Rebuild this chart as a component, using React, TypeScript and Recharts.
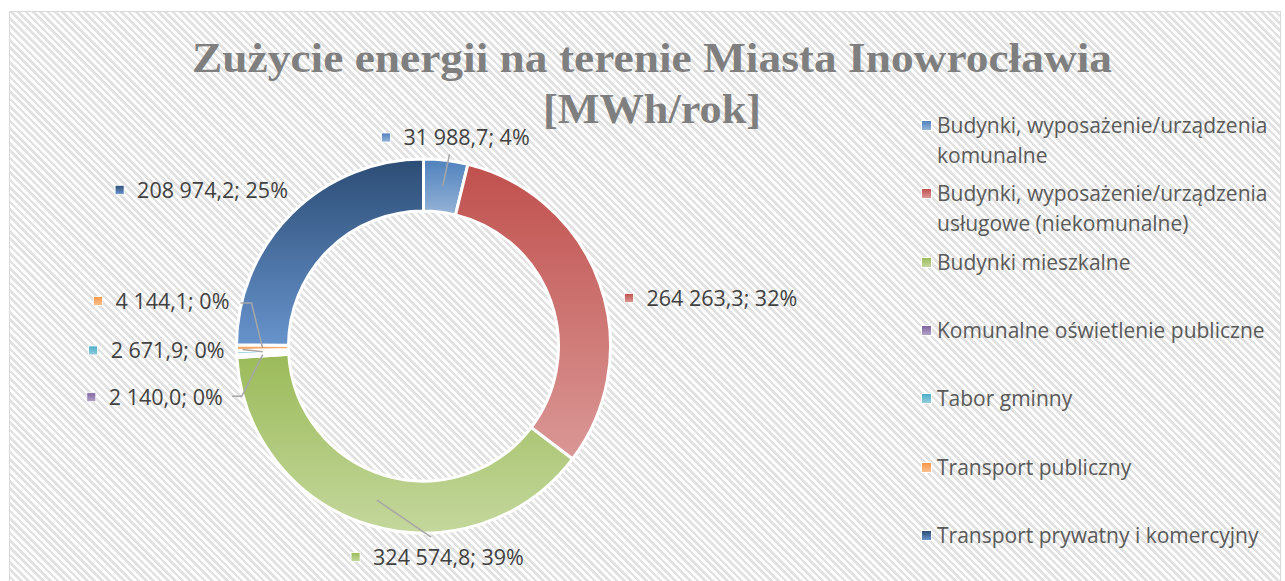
import React from 'react'
import { PieChart, Pie, Cell, Legend } from 'recharts'

// Zużycie energii [MWh/rok] wg sektora
const categories = [
    'Budynki, wyposażenie/urządzenia komunalne',
    'Budynki, wyposażenie/urządzenia usługowe (niekomunalne)',
    'Budynki mieszkalne',
    'Komunalne oświetlenie publiczne',
    'Tabor gminny',
    'Transport publiczny',
    'Transport prywatny i komercyjny'
]
const values = [31988.7, 264263.3, 324574.8, 2140.0, 2671.9, 4144.1, 208974.2]
const legendLines = [
    ['Budynki, wyposażenie/urządzenia', 'komunalne'],
    ['Budynki, wyposażenie/urządzenia', 'usługowe (niekomunalne)'],
    ['Budynki mieszkalne'],
    ['Komunalne oświetlenie publiczne'],
    ['Tabor gminny'],
    ['Transport publiczny'],
    ['Transport prywatny i komercyjny']
]
const titleLines = ['Zużycie energii na terenie Miasta Inowrocławia', '[MWh/rok]']

const topColors = ['#4F81BD', '#C0504D', '#9BBB59', '#8064A2', '#4BACC6', '#F79646', '#2C4D75']
const bottomColors = ['#95B3D7', '#DA9896', '#C4D79D', '#B3A2C7', '#93CDDD', '#FAC090', '#6793CC']

const data = categories.map((name, i) => ({ name, value: values[i] }))

// label placement tweaks (relative to point just outside the ring), Excel moved some by hand
const LABEL_LAYOUT: { dx: number; dy: number; leader: number[][] }[] = [
    { dx: -67, dy: -1, leader: [[68, 17]] },
    { dx: 4, dy: 22, leader: [] },
    { dx: -12, dy: 11, leader: [[80, -20]] },
    { dx: -128, dy: 40, leader: [[155, -1], [145, -1]] },
    { dx: -126, dy: -3, leader: [[154, -1]] },
    { dx: -121, dy: -47, leader: [[158, 2], [147, 2]] },
    { dx: -161, dy: -8, leader: [] }
]

const FONT = "'Open Sans', Lato, sans-serif"

const fmt = (v: number) => {
    const [i, d] = v.toFixed(1).split('.')
    return i.replace(/\B(?=(\d{3})+(?!\d))/g, ' ') + ',' + d
}

const RAD = Math.PI / 180

const renderLabel = (props: any) => {
    const { cx, cy, midAngle, innerRadius, outerRadius, percent, index, value } = props
    const lay = LABEL_LAYOUT[index]
    const pr = outerRadius + 22
    const px = cx + pr * Math.cos(-midAngle * RAD)
    const py = cy + pr * Math.sin(-midAngle * RAD)
    const mx = px + lay.dx
    const my = py + lay.dy
    const mr = (innerRadius + outerRadius) / 2
    const sx = cx + mr * Math.cos(-midAngle * RAD)
    const sy = cy + mr * Math.sin(-midAngle * RAD)
    const pts = lay.leader.map(([a, b]) => `${mx + a},${my + b}`)
    return (
        <g key={`lbl-${index}`}>
            {pts.length > 0 && (
                <polyline
                    points={[`${sx},${sy}`, ...pts].join(' ')}
                    fill="none"
                    stroke="#A6A6A6"
                    strokeWidth={1.5}
                />
            )}
            <rect x={mx} y={my - 4.5} width={9} height={9} fill={`url(#grad${index})`} stroke="#fff" strokeWidth={0.8} />
            <text
                x={mx + 22}
                y={my}
                dy="0.36em"
                fill="#404040"
                fontSize={21.5}
                fontFamily={FONT}
            >
                {`${fmt(value)}; ${Math.round(percent * 100)}%`}
            </text>
        </g>
    )
}

const LegendContent = (props: any) => {
    const { payload } = props
    return (
        <div style={{ position: 'relative', width: 370, height: 460 }}>
            {(payload || []).map((entry: any, i: number) => (
                <div
                    key={i}
                    style={{
                        position: 'absolute',
                        left: 0,
                        top: i * 68.3,
                        fontFamily: FONT,
                        fontSize: 21,
                        lineHeight: '30px',
                        color: '#595959'
                    }}
                >
                    <span
                        style={{
                            position: 'absolute',
                            left: 6,
                            top: 10,
                            width: 9,
                            height: 9,
                            background: `linear-gradient(${topColors[i]}, ${bottomColors[i]})`,
                            border: '0.5px solid #fff'
                        }}
                    />
                    <div style={{ marginLeft: 22, whiteSpace: 'nowrap' }}>
                        {legendLines[i].map((l, k) => (
                            <div key={k}>{l}</div>
                        ))}
                    </div>
                </div>
            ))}
        </div>
    )
}

export default function App() {
    return (
        <div style={{ position: 'absolute', left: 0, top: 0, width: 1285, height: 581, overflow: 'hidden', background: '#fff' }}>
            <div
                style={{
                    position: 'absolute',
                    left: 9,
                    top: 11,
                    width: 1270,
                    height: 600,
                    border: '1px solid #D9D9D9',
                    background: 'repeating-linear-gradient(45deg, #fff 0px, #fff 2.6px, #E2E2E2 2.6px, #E2E2E2 5.2px)'
                }}
            />
            <div style={{ position: 'absolute', left: 0, top: 0 }}>
                <PieChart width={1285} height={581}>
                    <defs>
                        {topColors.map((c, i) => (
                            <linearGradient key={i} id={`grad${i}`} x1="0" y1="0" x2="0" y2="1">
                                <stop offset="0%" stopColor={c} />
                                <stop offset="100%" stopColor={bottomColors[i]} />
                            </linearGradient>
                        ))}
                    </defs>
                    <Pie
                        data={data}
                        dataKey="value"
                        nameKey="name"
                        cx={418.5}
                        cy={341}
                        innerRadius={135}
                        outerRadius={187}
                        startAngle={90}
                        endAngle={-270}
                        stroke="#fff"
                        strokeWidth={3}
                        label={renderLabel}
                        labelLine={false}
                        isAnimationActive={false}
                    >
                        {data.map((d, i) => (
                            <Cell key={d.name} fill={`url(#grad${i})`} />
                        ))}
                    </Pie>
                    <Legend
                        content={<LegendContent />}
                        wrapperStyle={{ position: 'absolute', left: 915, top: 110, width: 370, height: 460 }}
                    />
                </PieChart>
            </div>
            <svg
                width={1285}
                height={140}
                style={{ position: 'absolute', left: 0, top: 0, pointerEvents: 'none' }}
            >
                {titleLines.map((t, i) => (
                    <text
                        key={i}
                        x={652}
                        y={72 + i * 51}
                        textAnchor="middle"
                        fill="#7F7F7F"
                        fontFamily="'Liberation Serif', 'DejaVu Serif', serif"
                        fontWeight="bold"
                        fontSize={43}
                        textLength={i === 0 ? 920 : 218}
                        lengthAdjust="spacingAndGlyphs"
                    >
                        {t}
                    </text>
                ))}
            </svg>
        </div>
    )
}
